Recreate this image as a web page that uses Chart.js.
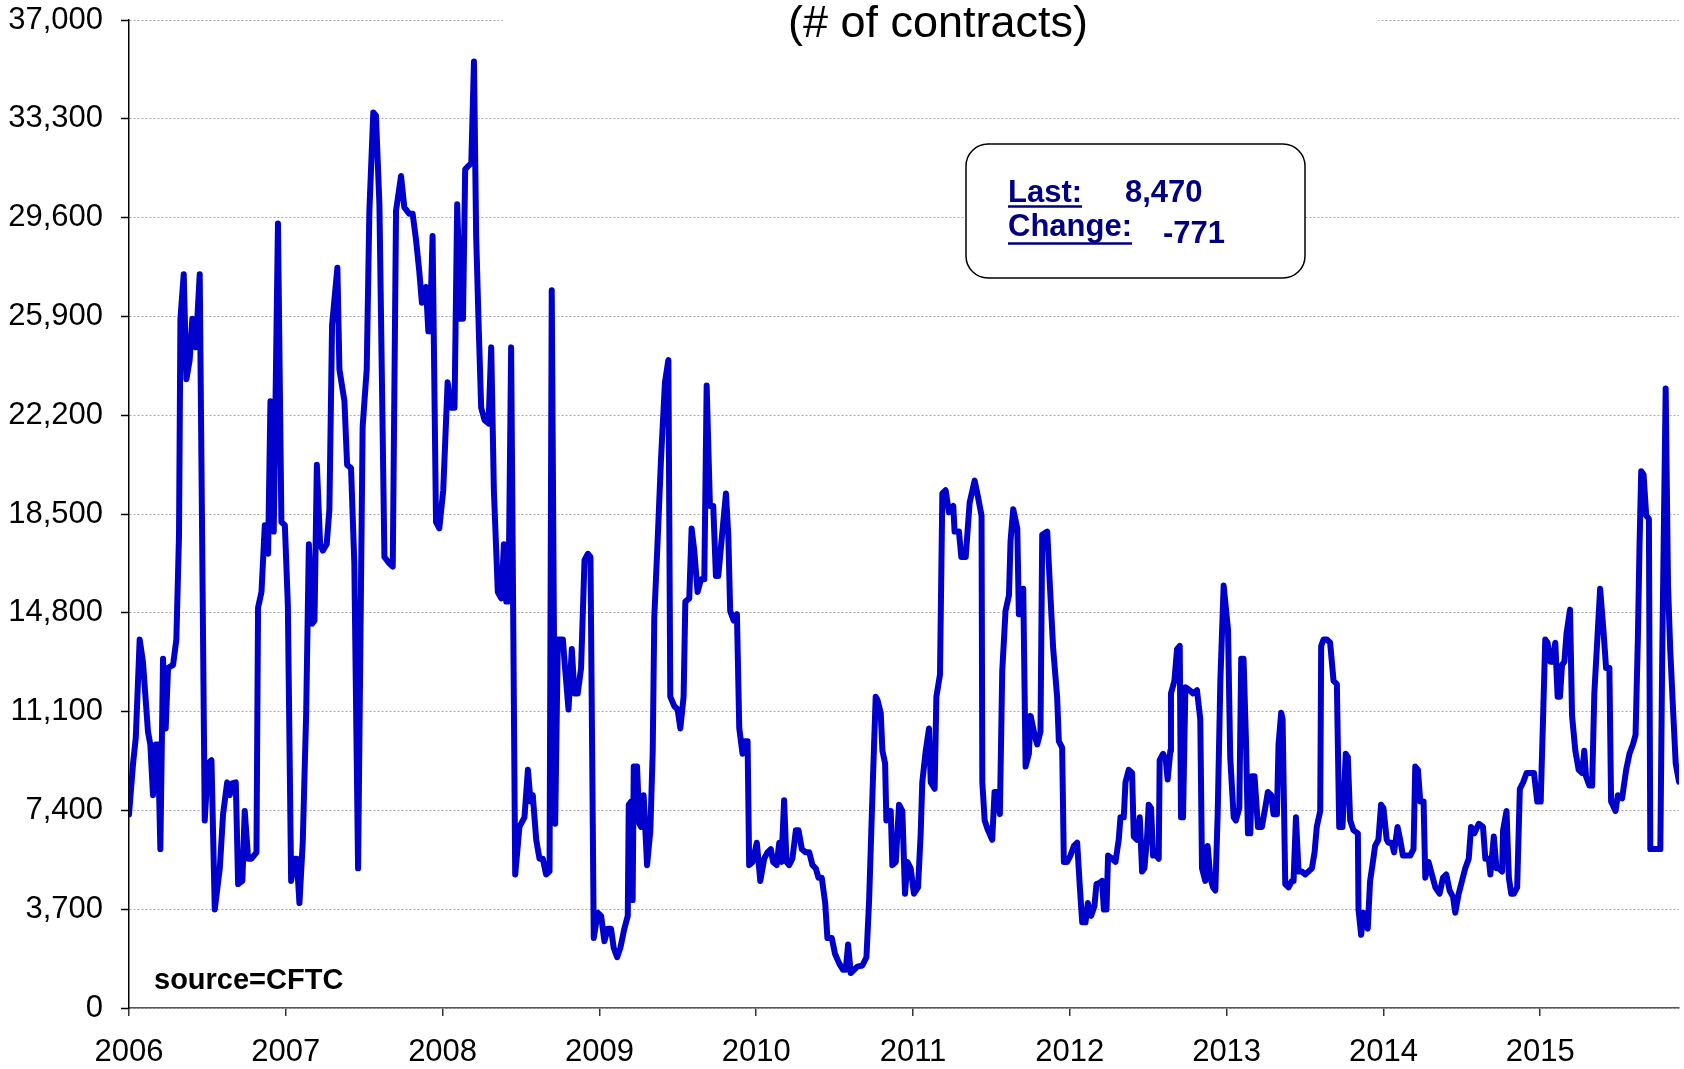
<!DOCTYPE html>
<html>
<head>
<meta charset="utf-8">
<script src="https://cdn.jsdelivr.net/npm/chart.js@4/dist/chart.umd.min.js"></script>
<style>
  body { margin: 0; background: #fff; }
  #wrap { width: 1684px; height: 1069px; }
</style>
</head>
<body>
<div id="wrap"><canvas id="cotChart" width="1684" height="1069"></canvas></div>
<script>
// weekly net positions (date as decimal year)
const dates = [
  2006.000, 2006.026, 2006.043, 2006.068, 2006.089, 2006.121, 2006.136, 2006.153, 2006.170, 2006.185,
  2006.200, 2006.217, 2006.234, 2006.249, 2006.281, 2006.302, 2006.319, 2006.328, 2006.349, 2006.366,
  2006.387, 2006.404, 2006.426, 2006.451, 2006.483, 2006.504, 2006.526, 2006.547, 2006.579, 2006.600,
  2006.626, 2006.643, 2006.653, 2006.681, 2006.696, 2006.723, 2006.738, 2006.760, 2006.781, 2006.813,
  2006.823, 2006.845, 2006.866, 2006.887, 2006.902, 2006.923, 2006.950, 2006.972, 2006.994,
  2007.013, 2007.034, 2007.055, 2007.070, 2007.087, 2007.108, 2007.130, 2007.147, 2007.168, 2007.183,
  2007.198, 2007.219, 2007.236, 2007.261, 2007.278, 2007.295, 2007.329, 2007.342, 2007.374, 2007.391,
  2007.416, 2007.437, 2007.461, 2007.490, 2007.516, 2007.533, 2007.558, 2007.575, 2007.597, 2007.629,
  2007.660, 2007.682, 2007.703, 2007.735, 2007.756, 2007.788, 2007.809, 2007.830, 2007.851, 2007.868,
  2007.894, 2007.909, 2007.919, 2007.936, 2007.958, 2007.979,
  2008.004, 2008.032, 2008.055, 2008.076, 2008.093, 2008.115, 2008.130, 2008.144, 2008.161, 2008.183,
  2008.200, 2008.214, 2008.231, 2008.246, 2008.268, 2008.293, 2008.310, 2008.327, 2008.352, 2008.374,
  2008.391, 2008.406, 2008.420, 2008.437, 2008.463, 2008.490, 2008.522, 2008.544, 2008.561, 2008.575,
  2008.597, 2008.618, 2008.639, 2008.660, 2008.682, 2008.696, 2008.718, 2008.735, 2008.767, 2008.781,
  2008.803, 2008.824, 2008.841, 2008.862, 2008.883, 2008.905, 2008.926, 2008.943, 2008.964, 2008.989,
  2009.011, 2009.032, 2009.053, 2009.074, 2009.091, 2009.113, 2009.134, 2009.159, 2009.181, 2009.187,
  2009.202, 2009.212, 2009.219, 2009.240, 2009.255, 2009.265, 2009.282, 2009.304, 2009.325, 2009.340,
  2009.350, 2009.372, 2009.393, 2009.418, 2009.440, 2009.452, 2009.478, 2009.499, 2009.516, 2009.537,
  2009.548, 2009.573, 2009.588, 2009.605, 2009.626, 2009.648, 2009.669, 2009.684, 2009.705, 2009.726,
  2009.743, 2009.758, 2009.775, 2009.807, 2009.822, 2009.834, 2009.856, 2009.877, 2009.892, 2009.913,
  2009.928, 2009.945, 2009.955, 2009.977,
  2010.004, 2010.026, 2010.051, 2010.072, 2010.093, 2010.108, 2010.130, 2010.147, 2010.161, 2010.178,
  2010.193, 2010.210, 2010.231, 2010.253, 2010.270, 2010.291, 2010.316, 2010.338, 2010.359, 2010.380,
  2010.397, 2010.418, 2010.440, 2010.454, 2010.482, 2010.503, 2010.529, 2010.554, 2010.571, 2010.586,
  2010.603, 2010.624, 2010.645, 2010.677, 2010.703, 2010.720, 2010.745, 2010.762, 2010.773, 2010.794,
  2010.805, 2010.822, 2010.830, 2010.858, 2010.868, 2010.890, 2010.911, 2010.932, 2010.949, 2010.964,
  2010.985,
  2011.006, 2011.032, 2011.049, 2011.059, 2011.081, 2011.102, 2011.113, 2011.138, 2011.149, 2011.172,
  2011.187, 2011.208, 2011.229, 2011.257, 2011.265, 2011.293, 2011.308, 2011.336, 2011.361, 2011.393,
  2011.414, 2011.437, 2011.442, 2011.457, 2011.478, 2011.505, 2011.520, 2011.537, 2011.554, 2011.569,
  2011.590, 2011.612, 2011.622, 2011.639, 2011.665, 2011.675, 2011.686, 2011.703, 2011.718, 2011.739,
  2011.750, 2011.775, 2011.792, 2011.813, 2011.824, 2011.856, 2011.873, 2011.894, 2011.919, 2011.930,
  2011.951, 2011.962, 2011.983,
  2012.004, 2012.026, 2012.047, 2012.064, 2012.079, 2012.100, 2012.115, 2012.136, 2012.157, 2012.170,
  2012.191, 2012.206, 2012.217, 2012.234, 2012.244, 2012.270, 2012.291, 2012.312, 2012.323, 2012.344,
  2012.355, 2012.376, 2012.397, 2012.408, 2012.429, 2012.446, 2012.461, 2012.476, 2012.493, 2012.503,
  2012.518, 2012.531, 2012.552, 2012.567, 2012.573, 2012.595, 2012.612, 2012.624, 2012.641, 2012.645,
  2012.667, 2012.684, 2012.701, 2012.709, 2012.722, 2012.737, 2012.764, 2012.786, 2012.811, 2012.832,
  2012.843, 2012.864, 2012.879, 2012.896, 2012.913, 2012.928, 2012.943, 2012.960, 2012.981,
  2013.009, 2013.023, 2013.045, 2013.059, 2013.081, 2013.093, 2013.108, 2013.123, 2013.136, 2013.151,
  2013.161, 2013.178, 2013.200, 2013.225, 2013.246, 2013.263, 2013.285, 2013.299, 2013.321, 2013.331,
  2013.348, 2013.357, 2013.374, 2013.395, 2013.416, 2013.427, 2013.442, 2013.459, 2013.480, 2013.501,
  2013.522, 2013.544, 2013.561, 2013.575, 2013.597, 2013.603, 2013.618, 2013.639, 2013.660, 2013.682,
  2013.703, 2013.718, 2013.739, 2013.760, 2013.773, 2013.788, 2013.809, 2013.837, 2013.841, 2013.858,
  2013.873, 2013.900, 2013.915, 2013.930, 2013.947, 2013.968, 2013.985,
  2014.000, 2014.021, 2014.032, 2014.053, 2014.068, 2014.090, 2014.107, 2014.124, 2014.149, 2014.171,
  2014.192, 2014.203, 2014.220, 2014.235, 2014.256, 2014.267, 2014.288, 2014.309, 2014.331, 2014.358,
  2014.380, 2014.401, 2014.422, 2014.444, 2014.458, 2014.480, 2014.501, 2014.522, 2014.544, 2014.559,
  2014.580, 2014.608, 2014.635, 2014.650, 2014.672, 2014.682, 2014.704, 2014.721, 2014.736, 2014.757,
  2014.763, 2014.785, 2014.800, 2014.815, 2014.832, 2014.853, 2014.870, 2014.891, 2014.913, 2014.934,
  2014.960, 2014.981,
  2015.003, 2015.019, 2015.032, 2015.047, 2015.064, 2015.079, 2015.096, 2015.111, 2015.126, 2015.139,
  2015.154, 2015.168, 2015.190, 2015.203, 2015.224, 2015.245, 2015.267, 2015.281, 2015.292, 2015.313,
  2015.331, 2015.345, 2015.382, 2015.403, 2015.420, 2015.441, 2015.452, 2015.480, 2015.495, 2015.522,
  2015.548, 2015.569, 2015.591, 2015.608, 2015.623, 2015.633, 2015.644, 2015.659, 2015.676, 2015.693,
  2015.702, 2015.723, 2015.744, 2015.766, 2015.778, 2015.800, 2015.815, 2015.829, 2015.847, 2015.864,
  2015.885
];

const contracts = [
  7250, 9160, 10100, 13800, 12960, 10350, 9870, 7970, 9870, 9870,
  5950, 13080, 10470, 12730, 12850, 13800, 17720, 25810, 27480, 23550,
  24270, 25810, 24740, 27480, 7020, 9160, 9280, 3690, 5230, 7260,
  8450, 7970, 8400, 8450, 4640, 4760, 7380, 5590, 5590, 5830,
  14990, 15580, 18080, 17010, 22720, 17840, 29380, 18200, 18080,
  15100, 4760, 5590, 5590, 3930, 6190, 11060, 17370, 14390, 14510,
  20340, 17370, 17130, 17370, 18680, 25570, 27720, 23910, 22720, 20340,
  20220, 16650, 5230, 21770, 23910, 29860, 33540, 33420, 30100, 16890,
  16650, 16530, 29860, 31160, 29980, 29740, 29740, 28790, 27600, 26410,
  27000, 25340, 25340, 28910, 18200, 17960,
  19390, 23430, 22480, 22480, 30100, 25810, 25810, 31400, 31520, 31640,
  35450, 28910, 25340, 22480, 22010, 21890, 24740, 19390, 15580, 15340,
  17370, 15220, 15220, 24740, 5000, 6780, 7140, 8920, 7730, 7970,
  6300, 5590, 5590, 5000, 5120, 26880, 6900, 13800, 13800, 12730,
  11180, 13440, 11780, 11780, 12730, 16770, 17010, 16890, 2620, 3570,
  3450, 2500, 2970, 2970, 2260, 1900, 2260, 2970, 3450, 7610,
  7730, 4040, 9040, 9040, 6900, 6780, 7970, 5350, 6660, 9630,
  14630, 17610, 20580, 23430, 24270, 11660, 11300, 11180, 10470, 11660,
  15220, 15340, 17960, 17130, 15580, 16060, 16060, 23310, 18800, 18800,
  16180, 16180, 17250, 19270, 17720, 14870, 14510, 14750, 10470, 9520,
  9990, 9990, 5350, 5470,
  6190, 4760, 5590, 5830, 5950, 5470, 5350, 6190, 5470, 7780,
  5470, 5350, 5590, 6660, 6660, 5950, 5830, 5830, 5350, 5230,
  4880, 4880, 3930, 2620, 2620, 2020, 1670, 1430, 1430, 2380,
  1310, 1430, 1550, 1590, 1900, 4040, 8680, 11660, 11540, 11060,
  9630, 9160, 7020, 7380, 5350, 5470, 7610, 7380, 4280, 5470,
  5230,
  4280, 4520, 6540, 8450, 9630, 10470, 8450, 8210, 11660, 12490,
  19270, 19390, 18560, 18800, 17840, 17840, 16890, 16890, 18920, 19750,
  19150, 18440, 8450, 7020, 6660, 6300, 8090, 8090, 7260, 12610,
  14870, 15460, 17490, 18680, 17960, 14750, 14750, 15700, 9040, 9520,
  10940, 10230, 9870, 10350, 17720, 17840, 15820, 13440, 11660, 9990,
  9750, 5470, 5470,
  5710, 6070, 6190, 4520, 3210, 3210, 3930, 3450, 3810, 4640,
  4690, 4760, 3690, 3690, 5710, 5590, 5470, 6300, 7140, 7140,
  8450, 8920, 8800, 6420, 6300, 7140, 5110, 5230, 6420, 7610,
  7490, 5710, 5710, 5590, 9280, 9520, 9280, 8560, 9630, 11780,
  12250, 13440, 13560, 7140, 7140, 12010, 11900, 11780, 11900, 10820,
  5230, 4760, 6070, 4880, 4520, 4400, 7260, 12250, 15820,
  14160, 9400, 7140, 7020, 7490, 13080, 13080, 10110, 6540, 6540,
  8680, 8680, 6780, 6780, 7490, 8090, 7970, 7260, 7260, 9870,
  11060, 10820, 4640, 4520, 4760, 4760, 7140, 5110, 5110, 5000,
  5110, 5230, 5830, 6780, 7380, 13560, 13800, 13800, 13680, 12250,
  12130, 6780, 6780, 9520, 9400, 7020, 6660, 6540, 3690, 2740,
  3570, 2970, 4760, 5350, 6070, 6300, 7610,
  7490, 6300, 6190, 6190, 5830, 6780, 6300, 5710, 5710, 5710,
  5950, 9040, 8920, 7730, 7730, 4880, 5470, 5000, 4520, 4280,
  4880, 5000, 4400, 4160, 3570, 4280, 4760, 5230, 5590, 6780,
  6540, 6900, 6780, 5590, 5590, 5000, 6420, 5230, 5230, 5110,
  6660, 7380, 4880, 4280, 4280, 4520, 8210, 8450, 8800, 8800,
  8800, 7730,
  7730, 11060, 13800, 13680, 12970, 12970, 13680, 11660, 11660, 12850,
  12970, 14040, 14920, 10940, 9630, 8920, 8800, 9630, 8680, 8330,
  8330, 11780, 15700, 14160, 12730, 12730, 7730, 7380, 7970, 7850,
  8920, 9520, 9870, 10230, 13920, 17250, 20100, 19980, 18440, 18320,
  5950, 5950, 5950, 5950, 13200, 23200, 15820, 13440, 11180, 9160,
  8470
];

const yearTicks = [2006, 2007, 2008, 2009, 2010, 2011, 2012, 2013, 2014, 2015];
const valueTicks = [0, 3700, 7400, 11100, 14800, 18500, 22200, 25900, 29600, 33300, 37000];
const lastValue = 8470;
const weeklyChange = -771;

const FONT = "'Liberation Sans', Arial, sans-serif";

// title strip, the Last/Change box and the source note are drawn on top
const annotations = {
    id: 'annotations',
    afterDraw(chart) {
        const ctx = chart.ctx;
        ctx.save();

        // title (top line of it is cut off in the original)
        ctx.fillStyle = '#fff';
        ctx.fillRect(503, 0, 875, 45);
        ctx.fillStyle = '#000';
        ctx.font = '45px ' + FONT;
        ctx.textAlign = 'center';
        ctx.textBaseline = 'alphabetic';
        ctx.fillText('(# of contracts)', 938, 37);

        // info box
        ctx.beginPath();
        ctx.roundRect(966, 144, 339, 134, 22);
        ctx.fillStyle = '#fff';
        ctx.fill();
        ctx.lineWidth = 1.5;
        ctx.strokeStyle = '#000';
        ctx.stroke();

        ctx.fillStyle = '#000080';
        ctx.strokeStyle = '#000080';
        ctx.font = 'bold 31px ' + FONT;
        ctx.textAlign = 'left';
        ctx.fillText('Last:', 1008, 202);
        ctx.fillText(lastValue.toLocaleString('en-US'), 1125, 202);
        ctx.fillText('Change:', 1008, 236);
        ctx.fillText(String(weeklyChange), 1163, 243);

        ctx.lineWidth = 2.5;
        ctx.beginPath();
        ctx.moveTo(1008, 206.5);
        ctx.lineTo(1008 + ctx.measureText('Last:').width, 206.5);
        ctx.moveTo(1008, 243.5);
        ctx.lineTo(1008 + ctx.measureText('Change:').width, 243.5);
        ctx.stroke();

        // source note
        ctx.fillStyle = '#000';
        ctx.font = 'bold 29px ' + FONT;
        ctx.fillText('source=CFTC', 154, 989);

        ctx.restore();
    }
};

const ctx = document.getElementById('cotChart').getContext('2d');

new Chart(ctx, {
    type: 'line',
    data: {
        datasets: [{
            data: dates.map((d, i) => ({ x: d, y: contracts[i] })),
            borderColor: '#0000cc',
            borderWidth: 6,
            pointRadius: 0,
            tension: 0,
            borderJoinStyle: 'round',
            borderCapStyle: 'round',
            fill: false
        }]
    },
    options: {
        responsive: false,
        animation: false,
        layout: { padding: { top: 20, right: 5, left: 0, bottom: 0 } },
        plugins: {
            legend: { display: false },
            tooltip: { enabled: false }
        },
        scales: {
            x: {
                type: 'linear',
                min: 2006,
                max: 2015.885,
                afterBuildTicks: scale => { scale.ticks = yearTicks.map(v => ({ value: v })); },
                afterFit: scale => { scale.height = 61; },
                ticks: {
                    color: '#000',
                    font: { size: 31, family: FONT },
                    padding: 18,
                    maxRotation: 0,
                    autoSkip: false,
                    callback: v => String(v)
                },
                grid: {
                    drawOnChartArea: false,
                    tickLength: 8,
                    tickColor: '#333',
                    lineWidth: 1.5
                },
                border: { color: '#555', width: 1.5 }
            },
            y: {
                min: 0,
                max: 37000,
                afterBuildTicks: scale => { scale.ticks = valueTicks.map(v => ({ value: v })); },
                afterFit: scale => {
                    scale.width = 129;
                    scale.paddingTop = 0;
                    scale.paddingBottom = 0;
                },
                ticks: {
                    color: '#000',
                    font: { size: 31, family: FONT },
                    padding: 18,
                    callback: v => v.toLocaleString('en-US')
                },
                grid: {
                    color: '#a8a8a8',
                    lineWidth: 1,
                    tickLength: 8,
                    tickColor: '#000',
                    tickBorderDash: [],
                    tickWidth: 1.5
                },
                border: { color: '#000', width: 1.5, dash: [2, 2] }
            }
        }
    },
    plugins: [annotations]
});
</script>
</body>
</html>
